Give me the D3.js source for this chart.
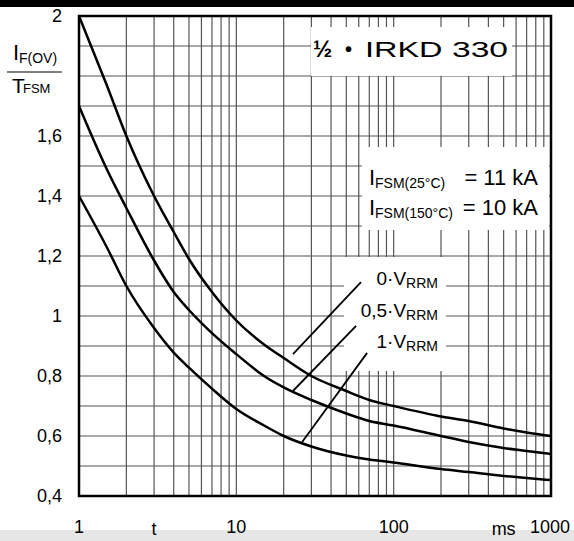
<!DOCTYPE html>
<html>
<head>
<meta charset="utf-8">
<script src="https://cdn.jsdelivr.net/npm/d3@7"></script>
<style>
  body { margin: 0; background: #fff; }
  svg { display: block; font-family: "Liberation Sans", Arial, sans-serif; }
</style>
</head>
<body>
<div id="chart"></div>
<script>
// pulse duration t (ms) and the three curves I_F(OV)/I_FSM
const times = [1, 1.5, 2, 3, 4, 5, 7, 10, 15, 20, 30, 50, 70, 100, 200, 300, 500, 700, 1000];
const ratio0V = [2.0, 1.77, 1.6, 1.4, 1.28, 1.19, 1.08, 0.985, 0.905, 0.86, 0.80, 0.75, 0.72, 0.70, 0.665, 0.65, 0.625, 0.612, 0.60];
const ratioHalfV = [1.7, 1.49, 1.36, 1.185, 1.08, 1.02, 0.943, 0.873, 0.80, 0.762, 0.72, 0.675, 0.65, 0.635, 0.60, 0.58, 0.56, 0.55, 0.54];
const ratio1V = [1.4, 1.23, 1.1, 0.96, 0.878, 0.828, 0.758, 0.69, 0.635, 0.60, 0.565, 0.535, 0.522, 0.512, 0.49, 0.48, 0.467, 0.46, 0.453];

const yTicks = [0.4, 0.6, 0.8, 1, 1.2, 1.4, 1.6, 2];
const yTickLabels = ['0,4', '0,6', '0,8', '1', '1,2', '1,4', '1,6', '2'];
const xTicks = [1, 10, 100, 1000];

// leader lines for the curve labels: [t0, v0, t1, v1]
const leaders = [
  [22.9, 0.873, 62, 1.113],
  [22.9, 0.75, 57.7, 0.967],
  [26.2, 0.58, 67.8, 0.877]
];

const W = 574, H = 541;
const margin = {left: 79, top: 16, right: 23, bottom: 45};

const svg = d3.select('#chart').append('svg')
  .attr('width', W)
  .attr('height', H);

// black strip at the top, grey strip at the bottom (scan artefacts)
svg.append('rect').attr('x', 0).attr('y', 0).attr('width', W).attr('height', 7).attr('fill', '#000');
svg.append('rect').attr('x', 0).attr('y', 530).attr('width', W).attr('height', 11).attr('fill', '#e6e6e6');

const x = d3.scaleLog().domain([1, 1000]).range([margin.left, W - margin.right]);
const y = d3.scaleLinear().domain([0.4, 2]).range([H - margin.bottom, margin.top]);

// grid
const grid = svg.append('g').attr('stroke', '#555').attr('stroke-width', 1.2);
const vLines = [];
[1, 10, 100].forEach(d => { for (let k = 2; k <= 10; k++) vLines.push(d * k); });
grid.selectAll('.vg').data(vLines.filter(v => v < 1000)).enter().append('line')
  .attr('x1', d => x(d)).attr('x2', d => x(d))
  .attr('y1', y(0.4)).attr('y2', y(2));
grid.selectAll('.hg').data(d3.range(5, 20).map(d => d / 10)).enter().append('line')
  .attr('x1', x(1)).attr('x2', x(1000))
  .attr('y1', d => y(d)).attr('y2', d => y(d));

// white patches behind the annotations
const patches = svg.append('g').attr('fill', '#fff');
patches.append('rect').attr('x', 311).attr('y', 27).attr('width', 201).attr('height', 49);
patches.append('rect').attr('x', 362).attr('y', 147).attr('width', 187).attr('height', 83);
patches.append('rect').attr('x', 344).attr('y', 257).attr('width', 102).attr('height', 114);

// curves
const line = d3.line()
  .x(d => x(d[0]))
  .y(d => y(d[1]))
  .curve(d3.curveMonotoneX);

[ratio0V, ratioHalfV, ratio1V].forEach(series => {
  svg.append('path')
    .datum(times.map((t, i) => [t, series[i]]))
    .attr('fill', 'none')
    .attr('stroke', '#000')
    .attr('stroke-width', 2.5)
    .attr('d', line);
});

// leader lines
svg.selectAll('.leader').data(leaders).enter().append('line')
  .attr('x1', d => x(d[0])).attr('y1', d => y(d[1]))
  .attr('x2', d => x(d[2])).attr('y2', d => y(d[3]))
  .attr('stroke', '#000').attr('stroke-width', 1.8);

// frame
svg.append('rect')
  .attr('x', x(1)).attr('y', y(2))
  .attr('width', x(1000) - x(1)).attr('height', y(0.4) - y(2))
  .attr('fill', 'none').attr('stroke', '#000').attr('stroke-width', 2.5);

// y tick labels
svg.append('g').selectAll('text').data(yTicks).enter().append('text')
  .attr('x', 62).attr('y', d => y(d))
  .attr('dy', '0.36em')
  .attr('text-anchor', 'end')
  .attr('font-size', 18)
  .text((d, i) => yTickLabels[i]);

// x tick labels
svg.append('g').selectAll('text').data(xTicks).enter().append('text')
  .attr('x', d => x(d) + (d === 1000 ? -1 : 0)).attr('y', 533)
  .attr('text-anchor', 'middle')
  .attr('font-size', 18)
  .text(d => d);
svg.append('text').attr('x', x(3)).attr('y', 535).attr('text-anchor', 'middle').attr('font-size', 18).text('t');
svg.append('text').attr('x', x(500)).attr('y', 535).attr('text-anchor', 'middle').attr('font-size', 18).text('ms');

// y axis title as a fraction
const yt = svg.append('g').attr('font-size', 22);
yt.append('text').attr('x', 13).attr('y', 60).text('I');
yt.append('text').attr('x', 19).attr('y', 63).attr('font-size', 14).text('F(OV)');
yt.append('line').attr('x1', 7).attr('x2', 62).attr('y1', 72).attr('y2', 72).attr('stroke', '#000').attr('stroke-width', 1.2);
yt.append('text').attr('x', 12).attr('y', 93).attr('font-size', 21).text('T');
yt.append('text').attr('x', 23).attr('y', 93).attr('font-size', 13).text('FSM');

// title
svg.append('text').attr('x', 313).attr('y', 57).attr('font-size', 23).attr('font-weight', 'bold')
  .text('½');
svg.append('text').attr('x', 345).attr('y', 56).attr('font-size', 20).attr('font-weight', 'bold')
  .text('•');
svg.append('text').attr('transform', 'translate(365,57) scale(1.16,0.78)').attr('font-size', 28)
  .text('IRKD');
svg.append('text').attr('transform', 'translate(452,57) scale(1.2,0.78)').attr('font-size', 28)
  .text('330');

// surge current notes
const note = svg.append('g');
[['FSM(25°C)', '= 11 kA', 185], ['FSM(150°C)', '= 10 kA', 215]].forEach(r => {
  note.append('text').attr('x', 369).attr('y', r[2]).attr('font-size', 22).text('I');
  note.append('text').attr('x', 375).attr('y', r[2] + 3).attr('font-size', 14).text(r[0]);
  note.append('text').attr('x', 538).attr('y', r[2]).attr('text-anchor', 'end').attr('font-size', 22).text(r[1]);
});

// curve labels
const curveLabels = [['0·V', 285], ['0,5·V', 317], ['1·V', 348]];
curveLabels.forEach(c => {
  const t = svg.append('text').attr('x', 438).attr('y', c[1]).attr('text-anchor', 'end').attr('font-size', 19);
  t.append('tspan').text(c[0]);
  t.append('tspan').attr('font-size', 14).attr('dy', 3).text('RRM');
});
</script>
</body>
</html>
